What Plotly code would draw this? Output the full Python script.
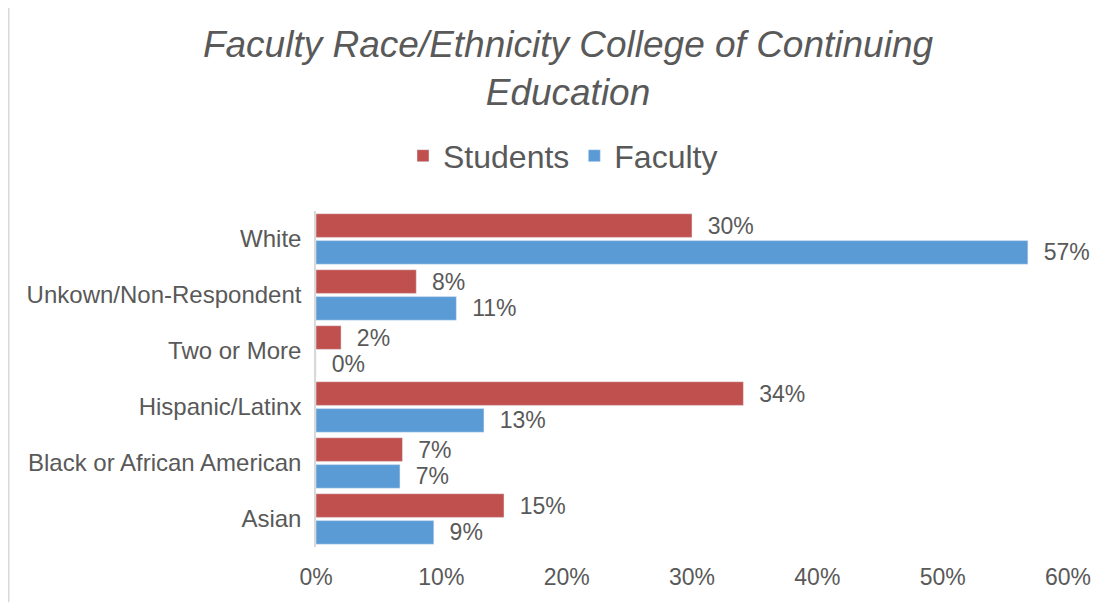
import plotly.graph_objects as go

categories = ["White", "Unkown/Non-Respondent", "Two or More",
              "Hispanic/Latinx", "Black or African American", "Asian"]
students = [30.0, 8.0, 2.0, 34.1, 6.9, 15.0]
faculty = [56.8, 11.2, 0.0, 13.4, 6.7, 9.4]
x_ticks = [0, 10, 20, 30, 40, 50, 60]
x_tick_labels = ["0%", "10%", "20%", "30%", "40%", "50%", "60%"]

RED = "#C0504D"
BLUE = "#5B9BD5"
TEXT = "#595959"
FONT = "Liberation Sans, Arial, sans-serif"

fig = go.Figure()

# Students bars (top of each pair)
fig.add_trace(go.Bar(
    y=categories, x=students, name="Students", orientation="h",
    marker=dict(color=RED),
    texttemplate="\u00a0\u00a0%{x:.0f}%", textposition="outside",
    textfont=dict(size=23, color=TEXT), cliponaxis=False, constraintext="none",
))

# Faculty bars
fig.add_trace(go.Bar(
    y=categories, x=faculty, name="Faculty", orientation="h",
    marker=dict(color=BLUE),
    texttemplate="\u00a0\u00a0%{x:.0f}%", textposition="outside",
    textfont=dict(size=23, color=TEXT), cliponaxis=False, constraintext="none",
))

# page adds an 8px body margin, so the figure is a bit smaller than the window
fig.update_layout(
    width=1110, height=594,
    margin=dict(l=308, r=50, t=203, b=55, autoexpand=False),
    paper_bgcolor="white", plot_bgcolor="white",
    font=dict(family=FONT, color=TEXT),
    barmode="group", bargap=0.04, bargroupgap=0.12,
    title=dict(
        text="<i>Faculty Race/Ethnicity College of Continuing<br>Education</i>",
        x=0.5045, xanchor="center", y=0.917, yanchor="middle",
        font=dict(size=37, color=TEXT, family=FONT),
    ),
    legend=dict(
        orientation="h", xref="container", x=0.5, xanchor="center",
        yref="container", y=0.751, yanchor="middle",
        font=dict(size=32, color=TEXT), traceorder="normal",
    ),
    showlegend=True,
)

fig.update_xaxes(
    range=[0, 60], tickvals=x_ticks, ticktext=x_tick_labels,
    showgrid=False, zeroline=False, showline=False, automargin=False,
    tickfont=dict(size=23, color=TEXT), ticklabelstandoff=14,
)
fig.update_yaxes(
    autorange="reversed", showgrid=False, zeroline=False, automargin=False,
    showline=True, linecolor="#D9D9D9", linewidth=1.5,
    tickfont=dict(size=24, color=TEXT), ticklabelstandoff=8,
)

# light chart frame (left edge)
fig.add_shape(type="line", xref="paper", yref="paper",
              x0=-0.4086, x1=-0.4086, y0=-0.2, y1=1.7,
              line=dict(color="#D9D9D9", width=1.5))

fig.write_html("out.html")
